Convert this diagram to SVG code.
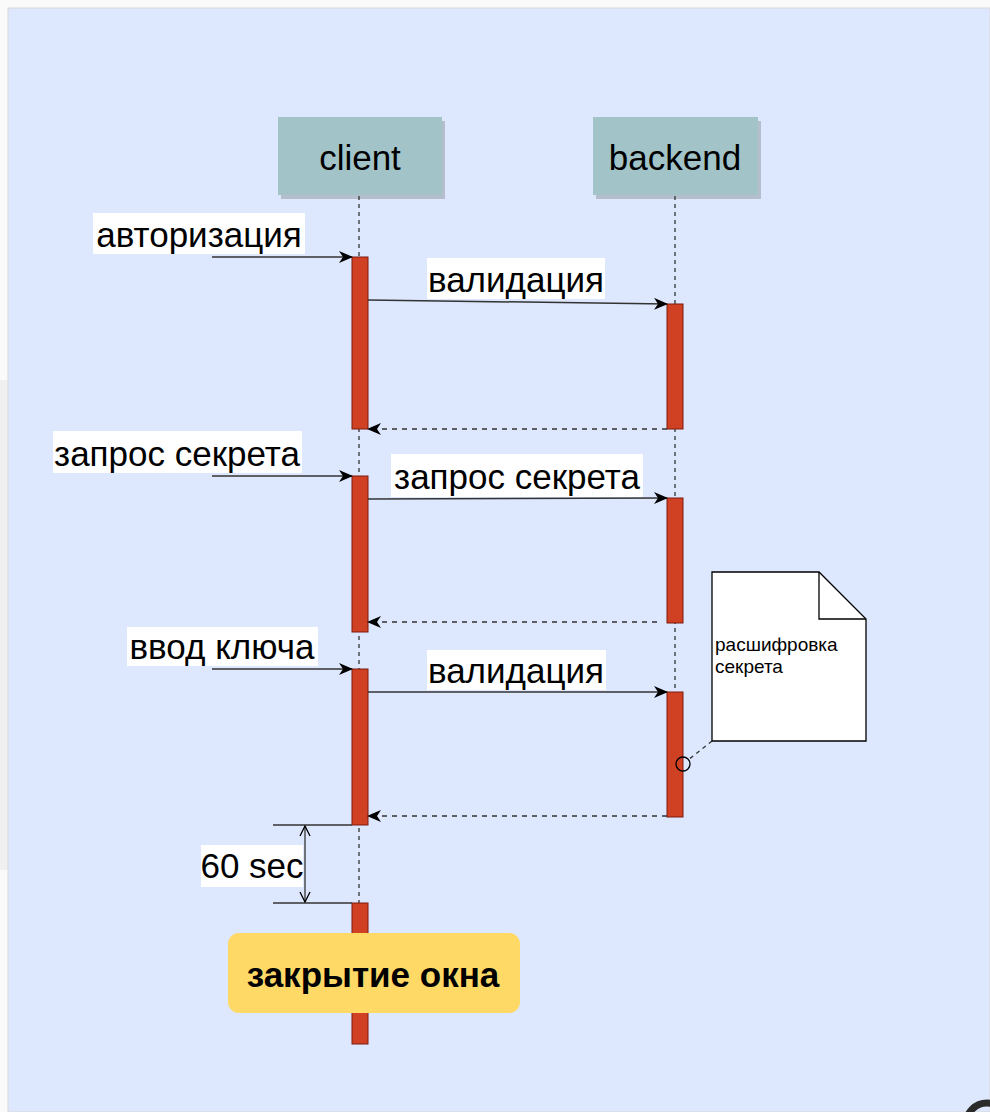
<svg xmlns="http://www.w3.org/2000/svg" width="990" height="1112" viewBox="0 0 990 1112">
<defs>
<style>
.lbl{font-family:"Liberation Sans",Arial,sans-serif;font-size:35px;fill:#000}
.hdr{fill:#a2c4c9}
.shadow{fill:#9aa3ad;opacity:0.6}
.bar{fill:#d04124;stroke:#7e1b0c;stroke-width:1}
.life{stroke:#333;stroke-width:1.3;stroke-dasharray:4 4;fill:none}
.msg{stroke:#333;stroke-width:1.5;fill:none}
.ret{stroke:#333;stroke-width:1.5;stroke-dasharray:5 5;fill:none}
.bg{fill:#fff}
</style>
<marker id="ah" viewBox="0 0 14 12" refX="13" refY="6" markerWidth="14" markerHeight="12" markerUnits="userSpaceOnUse" orient="auto">
<path d="M0,0 L14,6 L0,12 L4,6 Z" fill="#000"/>
</marker>
<marker id="oh" viewBox="0 0 12 12" refX="11" refY="6" markerWidth="12" markerHeight="12" markerUnits="userSpaceOnUse" orient="auto">
<path d="M1,1 L11,6 L1,11" fill="none" stroke="#000" stroke-width="1.3"/>
</marker>
</defs>
<rect x="0" y="0" width="990" height="1112" fill="#fafafa"/>
<rect x="0" y="380" width="8" height="490" fill="#f0f0f0"/>
<rect x="8" y="8" width="982" height="1104" fill="#dde7fd" stroke="#d8d8d8" stroke-width="1"/>

<g id="client">
<rect x="281" y="121" width="164" height="78" class="shadow"/>
<rect x="278" y="117" width="164" height="78" class="hdr"/>
<text x="360" y="170" class="lbl" text-anchor="middle">client</text>
</g>
<g id="backend">
<rect x="596" y="121" width="165" height="78" class="shadow"/>
<rect x="593" y="117" width="165" height="78" class="hdr"/>
<text x="675" y="170" class="lbl" text-anchor="middle">backend</text>
</g>

<g id="lifelines">
<line x1="359" y1="196" x2="359" y2="1044" class="life"/>
<line x1="675" y1="196" x2="675" y2="817" class="life"/>
</g>

<g id="activations">
<rect x="352" y="257" width="16" height="172" class="bar"/>
<rect x="352" y="476" width="16" height="156" class="bar"/>
<rect x="352" y="669" width="16" height="156" class="bar"/>
<rect x="352" y="903" width="16" height="141" class="bar"/>
<rect x="667" y="304" width="16" height="125" class="bar"/>
<rect x="667" y="498" width="16" height="125" class="bar"/>
<rect x="667" y="692" width="16" height="125" class="bar"/>
</g>

<g id="connectors">
<line x1="212" y1="257" x2="352" y2="257" class="msg" marker-end="url(#ah)"/>
<line x1="368" y1="300" x2="667" y2="304" class="msg" marker-end="url(#ah)"/>
<line x1="667" y1="429" x2="368" y2="429" class="ret" marker-end="url(#ah)"/>
<line x1="212" y1="476" x2="352" y2="476" class="msg" marker-end="url(#ah)"/>
<line x1="368" y1="499" x2="667" y2="498" class="msg" marker-end="url(#ah)"/>
<line x1="657" y1="622" x2="368" y2="622" class="ret" marker-end="url(#ah)"/>
<line x1="212" y1="669" x2="352" y2="669" class="msg" marker-end="url(#ah)"/>
<line x1="368" y1="692" x2="667" y2="692" class="msg" marker-end="url(#ah)"/>
<line x1="667" y1="816" x2="368" y2="816" class="ret" marker-end="url(#ah)"/>
<line x1="712" y1="741" x2="688" y2="760" stroke="#333" stroke-width="1.3" stroke-dasharray="4 4"/>
<circle cx="683" cy="764" r="7" fill="none" stroke="#000" stroke-width="1.3"/>
<line x1="273" y1="825" x2="352" y2="825" stroke="#333" stroke-width="1.5"/>
<line x1="273" y1="903" x2="352" y2="903" stroke="#333" stroke-width="1.5"/>
<line x1="305" y1="864" x2="305" y2="826" stroke="#333" stroke-width="1.3" marker-end="url(#oh)"/>
<line x1="305" y1="864" x2="305" y2="902" stroke="#333" stroke-width="1.3" marker-end="url(#oh)"/>
</g>

<g id="labels">
<rect x="93" y="213" width="212" height="41" class="bg"/>
<text x="199" y="247" class="lbl" text-anchor="middle">авторизация</text>
<rect x="427" y="258" width="178" height="41" class="bg"/>
<text x="516" y="292" class="lbl" text-anchor="middle">валидация</text>
<rect x="53" y="431" width="249" height="42" class="bg"/>
<text x="177" y="466" class="lbl" text-anchor="middle">запрос секрета</text>
<rect x="391" y="454" width="252" height="43" class="bg"/>
<text x="517" y="489" class="lbl" text-anchor="middle">запрос секрета</text>
<rect x="127" y="627" width="191" height="39" class="bg"/>
<text x="222" y="659" class="lbl" text-anchor="middle">ввод ключа</text>
<rect x="427" y="650" width="179" height="40" class="bg"/>
<text x="516" y="683" class="lbl" text-anchor="middle">валидация</text>
<rect x="201" y="845" width="102" height="42" class="bg"/>
<text x="252" y="878" class="lbl" text-anchor="middle">60 sec</text>
</g>

<g id="note">
<path d="M712,572 L819,572 L866,619 L866,741 L712,741 Z" fill="#fff" stroke="#000" stroke-width="1.3"/>
<path d="M819,572 L819,619 L866,619" fill="none" stroke="#000" stroke-width="1.3"/>
<text x="715" y="651" font-family="'Liberation Sans',Arial,sans-serif" font-size="19" fill="#000">расшифровка</text>
<text x="715" y="673" font-family="'Liberation Sans',Arial,sans-serif" font-size="19" fill="#000">секрета</text>
</g>

<g id="close-window">
<rect x="228" y="933" width="292" height="80" rx="11" ry="11" fill="#ffd966"/>
<text x="373" y="987" font-family="'Liberation Sans',Arial,sans-serif" font-size="35" font-weight="bold" fill="#000" text-anchor="middle">закрытие окна</text>
</g>

<circle cx="987" cy="1124" r="21" fill="none" stroke="#2b2b2b" stroke-width="7"/>
</svg>
